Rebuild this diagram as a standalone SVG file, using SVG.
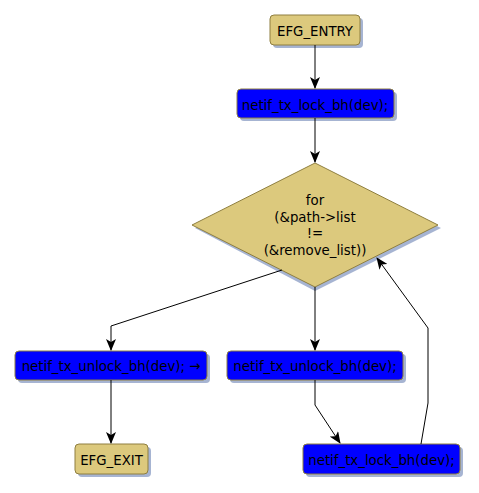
<svg xmlns="http://www.w3.org/2000/svg" width="479" height="493" viewBox="0 0 479 493">
<defs>
<marker id="arr" viewBox="0 0 12 10" refX="11" refY="5" markerWidth="12" markerHeight="10" markerUnits="userSpaceOnUse" orient="auto">
<path d="M0,0 L12,5 L0,10 L3,5 Z" fill="#000"/>
</marker>
</defs>
<style>
text{font-family:"DejaVu Sans Condensed","DejaVu Sans",sans-serif;font-stretch:condensed;font-size:14.8px;fill:#000;text-anchor:middle}
.sh{fill:#a6b4d2}
.tan{fill:#dcc97d;stroke:#8f7f40;stroke-width:1}
.blue{fill:#0000ff;stroke:#8f7f40;stroke-width:1}
.e{fill:none;stroke:#000;stroke-width:1}
</style>
<rect width="479" height="493" fill="#fff"/>
<g id="entry">
<rect class="sh" x="273" y="18" width="90" height="30" rx="4"/>
<rect class="tan" x="270" y="15" width="90" height="30" rx="4"/>
<text x="315" y="35.5">EFG_ENTRY</text>
</g>
<g id="lock1">
<rect class="sh" x="240" y="92" width="157" height="29" rx="4"/>
<rect class="blue" x="237" y="89" width="157" height="29" rx="4"/>
<text x="315" y="109.5">netif_tx_lock_bh(dev);</text>
</g>
<g id="loop">
<polygon class="sh" points="315,166 441,228 315,291 195,228"/>
<polygon class="tan" points="315,163 438,225 315,287 192,225"/>
<text x="315" y="205">for</text>
<text x="315" y="222">(&amp;path-&gt;list</text>
<text x="315" y="238">!=</text>
<text x="315" y="255">(&amp;remove_list))</text>
</g>
<g id="unlock1">
<rect class="sh" x="18" y="354" width="192" height="29" rx="4"/>
<rect class="blue" x="15" y="351" width="192" height="29" rx="4"/>
<text x="111" y="371">netif_tx_unlock_bh(dev); →</text>
</g>
<g id="exit">
<rect class="sh" x="78" y="447" width="73" height="30" rx="4"/>
<rect class="tan" x="75" y="444" width="73" height="30" rx="4"/>
<text x="111.5" y="464.5">EFG_EXIT</text>
</g>
<g id="unlock2">
<rect class="sh" x="230" y="354" width="176" height="29" rx="4"/>
<rect class="blue" x="227" y="351" width="176" height="29" rx="4"/>
<text x="315" y="371">netif_tx_unlock_bh(dev);</text>
</g>
<g id="lock2">
<rect class="sh" x="306" y="447" width="157" height="30" rx="4"/>
<rect class="blue" x="303" y="444" width="157" height="30" rx="4"/>
<text x="381.5" y="464.5">netif_tx_lock_bh(dev);</text>
</g>
<g id="edges">
<path class="e" d="M315,45 L315,88" marker-end="url(#arr)"/>
<path class="e" d="M315,118 L315,162" marker-end="url(#arr)"/>
<path class="e" d="M282,270 L111,326 L111,350" marker-end="url(#arr)"/>
<path class="e" d="M315,287 L315,350" marker-end="url(#arr)"/>
<path class="e" d="M111,380 L111,443" marker-end="url(#arr)"/>
<path class="e" d="M315,380 L315,405 L340,443" marker-end="url(#arr)"/>
<path class="e" d="M421,444 L428,403 L428,328 L377,258" marker-end="url(#arr)"/>
</g>
</svg>
